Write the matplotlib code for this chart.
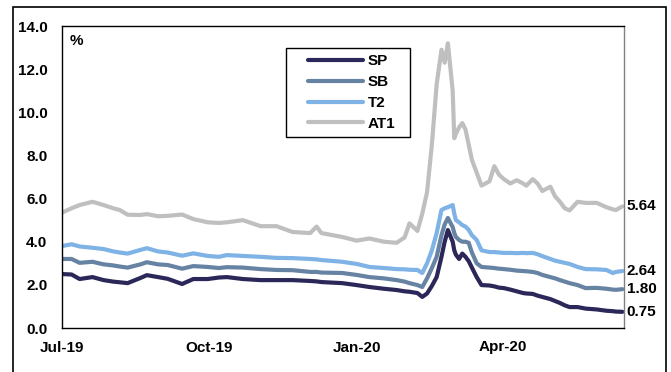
import matplotlib
matplotlib.use("Agg")
import matplotlib.pyplot as plt
from matplotlib.patches import Rectangle
from matplotlib.legend_handler import HandlerLine2D
import pandas as pd

plt.rcParams['font.family'] = ['Liberation Sans', 'DejaVu Sans']
plt.rcParams['font.weight'] = 'bold'

# sample dates (denser around the Feb/Mar spike)
dates = pd.to_datetime([
    '2019-07-01', '2019-07-07', '2019-07-12', '2019-07-20', '2019-07-27',
    '2019-08-02', '2019-08-06', '2019-08-11', '2019-08-19', '2019-08-23',
    '2019-08-30', '2019-09-05', '2019-09-14', '2019-09-21', '2019-09-30',
    '2019-10-07', '2019-10-12', '2019-10-22', '2019-11-02', '2019-11-12',
    '2019-11-22', '2019-12-03', '2019-12-07', '2019-12-10', '2019-12-23',
    '2020-01-01', '2020-01-09', '2020-01-18', '2020-01-26', '2020-01-31',
    '2020-02-03', '2020-02-08', '2020-02-11', '2020-02-14', '2020-02-17',
    '2020-02-20', '2020-02-23', '2020-02-25', '2020-02-27', '2020-03-01',
    '2020-03-02', '2020-03-03', '2020-03-05', '2020-03-07', '2020-03-09',
    '2020-03-11', '2020-03-13', '2020-03-16', '2020-03-19', '2020-03-24',
    '2020-03-27', '2020-03-30', '2020-04-02', '2020-04-06', '2020-04-10',
    '2020-04-14', '2020-04-16', '2020-04-20', '2020-04-23', '2020-04-26',
    '2020-05-01', '2020-05-04', '2020-05-07', '2020-05-10', '2020-05-13',
    '2020-05-18', '2020-05-23', '2020-05-30', '2020-06-05', '2020-06-09',
    '2020-06-11', '2020-06-15',
])

sp = [2.50, 2.48, 2.27, 2.36, 2.22, 2.15, 2.12, 2.08, 2.32, 2.45,
      2.36, 2.28, 2.04, 2.27, 2.27, 2.34, 2.36, 2.27, 2.22, 2.22,
      2.22, 2.18, 2.16, 2.13, 2.08, 1.99, 1.90, 1.82, 1.76, 1.70,
      1.68, 1.62, 1.44, 1.60, 1.95, 2.36, 3.30, 4.00, 4.54, 4.00,
      3.60, 3.40, 3.20, 3.45, 3.30, 3.10, 2.80, 2.36, 1.99, 1.97,
      1.93, 1.87, 1.85, 1.78, 1.70, 1.62, 1.60, 1.58, 1.50, 1.44,
      1.34, 1.25, 1.16, 1.05, 0.97, 0.97, 0.90, 0.86, 0.80, 0.78,
      0.76, 0.75]

sb = [3.20, 3.20, 3.02, 3.07, 2.95, 2.90, 2.85, 2.80, 2.95, 3.05,
      2.95, 2.92, 2.75, 2.87, 2.83, 2.78, 2.82, 2.80, 2.73, 2.69,
      2.68, 2.60, 2.60, 2.57, 2.55, 2.46, 2.36, 2.30, 2.22, 2.15,
      2.08, 1.99, 1.90, 2.30, 2.78, 3.30, 4.30, 4.80, 5.10, 4.68,
      4.40, 4.22, 4.08, 4.00, 4.00, 3.95, 3.50, 3.00, 2.83, 2.80,
      2.78, 2.75, 2.73, 2.70, 2.66, 2.64, 2.63, 2.60, 2.55, 2.46,
      2.36, 2.30, 2.22, 2.15, 2.08, 1.99, 1.85, 1.86, 1.82, 1.78,
      1.77, 1.80]

t2 = [3.80, 3.88, 3.78, 3.72, 3.66, 3.55, 3.50, 3.45, 3.62, 3.70,
      3.55, 3.50, 3.35, 3.46, 3.34, 3.30, 3.38, 3.34, 3.30, 3.25,
      3.24, 3.20, 3.18, 3.15, 3.07, 2.97, 2.83, 2.78, 2.73, 2.72,
      2.70, 2.69, 2.55, 3.00, 3.60, 4.40, 5.47, 5.55, 5.60, 5.70,
      5.30, 5.00, 4.90, 4.77, 4.70, 4.55, 4.30, 4.08, 3.60, 3.52,
      3.52, 3.50, 3.48, 3.48, 3.47, 3.48, 3.47, 3.48, 3.42, 3.33,
      3.20, 3.12, 3.07, 3.02, 2.97, 2.83, 2.73, 2.72, 2.69, 2.55,
      2.60, 2.64]

at1 = [5.35, 5.55, 5.70, 5.85, 5.70, 5.55, 5.47, 5.25, 5.24, 5.28,
       5.18, 5.20, 5.26, 5.05, 4.90, 4.87, 4.90, 5.00, 4.72, 4.72,
       4.45, 4.40, 4.70, 4.40, 4.22, 4.05, 4.15, 4.00, 3.95, 4.20,
       4.85, 4.50, 5.30, 6.30, 8.50, 11.30, 12.90, 12.30, 13.20, 11.00,
       8.80, 9.00, 9.30, 9.50, 9.20, 8.50, 7.80, 7.20, 6.60, 6.80,
       7.50, 7.10, 6.90, 6.70, 6.85, 6.70, 6.60, 6.90, 6.70, 6.35,
       6.55, 6.10, 5.85, 5.55, 5.45, 5.85, 5.80, 5.80, 5.60, 5.50,
       5.47, 5.64]

series = {'SP': sp, 'SB': sb, 'T2': t2, 'AT1': at1}
colors = {'SP': '#2B2859', 'SB': '#6783A3', 'T2': '#7FB2E5', 'AT1': '#BFBFBF'}

tick_dates = pd.to_datetime(['2019-07-01', '2019-10-01', '2020-01-01', '2020-04-01'])
tick_labels = ['Jul-19', 'Oct-19', 'Jan-20', 'Apr-20']

fig = plt.figure(figsize=(6.71, 3.72), dpi=100)
ax = fig.add_axes([62 / 671, 44 / 372, 562 / 671, 302 / 372])

for name, vals in series.items():
    ax.plot(dates, vals, color=colors[name], lw=3.0, label=name,
            solid_joinstyle='round', solid_capstyle='round')

# end-of-series value labels
for name in ['AT1', 'T2', 'SB', 'SP']:
    last = series[name][-1]
    ax.annotate(f'{last:.2f}', xy=(dates[-1], last), xytext=(3, 0),
                textcoords='offset points', va='center', ha='left',
                fontsize=11, fontweight='bold', annotation_clip=False)

ax.set_ylim(0, 14)
ax.set_yticks(range(0, 15, 2))
ax.set_yticklabels([f'{v:.1f}' for v in range(0, 15, 2)])
ax.set_xlim(pd.Timestamp('2019-07-01'), pd.Timestamp('2020-06-16'))
ax.set_xticks(tick_dates)
ax.set_xticklabels(tick_labels)
ax.tick_params(axis='both', length=0, labelsize=11)
ax.tick_params(axis='y', pad=10.5)
ax.tick_params(axis='x', pad=9)
for lab in ax.get_xticklabels() + ax.get_yticklabels():
    lab.set_fontweight('bold')

for side in ['left', 'bottom', 'top']:
    ax.spines[side].set_color('black')
    ax.spines[side].set_linewidth(1.0)
ax.spines['right'].set_color('#808080')
ax.spines['right'].set_linewidth(1.0)

ax.text(0.014, 0.975, '%', transform=ax.transAxes, ha='left', va='top',
        fontsize=11, fontweight='bold')

# legend box: wider, with the line handles set in from the left
leg = ax.legend(loc='upper left', bbox_to_anchor=(0.3986, 0.5, 0.2206, 0.427),
                mode='expand', borderaxespad=0, fancybox=False, framealpha=1,
                edgecolor='black', handlelength=4.65, handletextpad=0.3,
                labelspacing=0.45, borderpad=0.4, prop={'weight': 'bold', 'size': 11},
                handler_map={plt.Line2D: HandlerLine2D(xpad=1.05)})
leg.get_frame().set_linewidth(1.0)
for line in leg.get_lines():
    line.set_linewidth(3.0)

# outer frame around the whole chart
fig.patches.append(Rectangle((13 / 671, -0.05), 653 / 671, 1.05 - 7 / 372,
                             transform=fig.transFigure, fill=False,
                             edgecolor='black', linewidth=1.2))

fig.savefig('out.png', dpi=100)
